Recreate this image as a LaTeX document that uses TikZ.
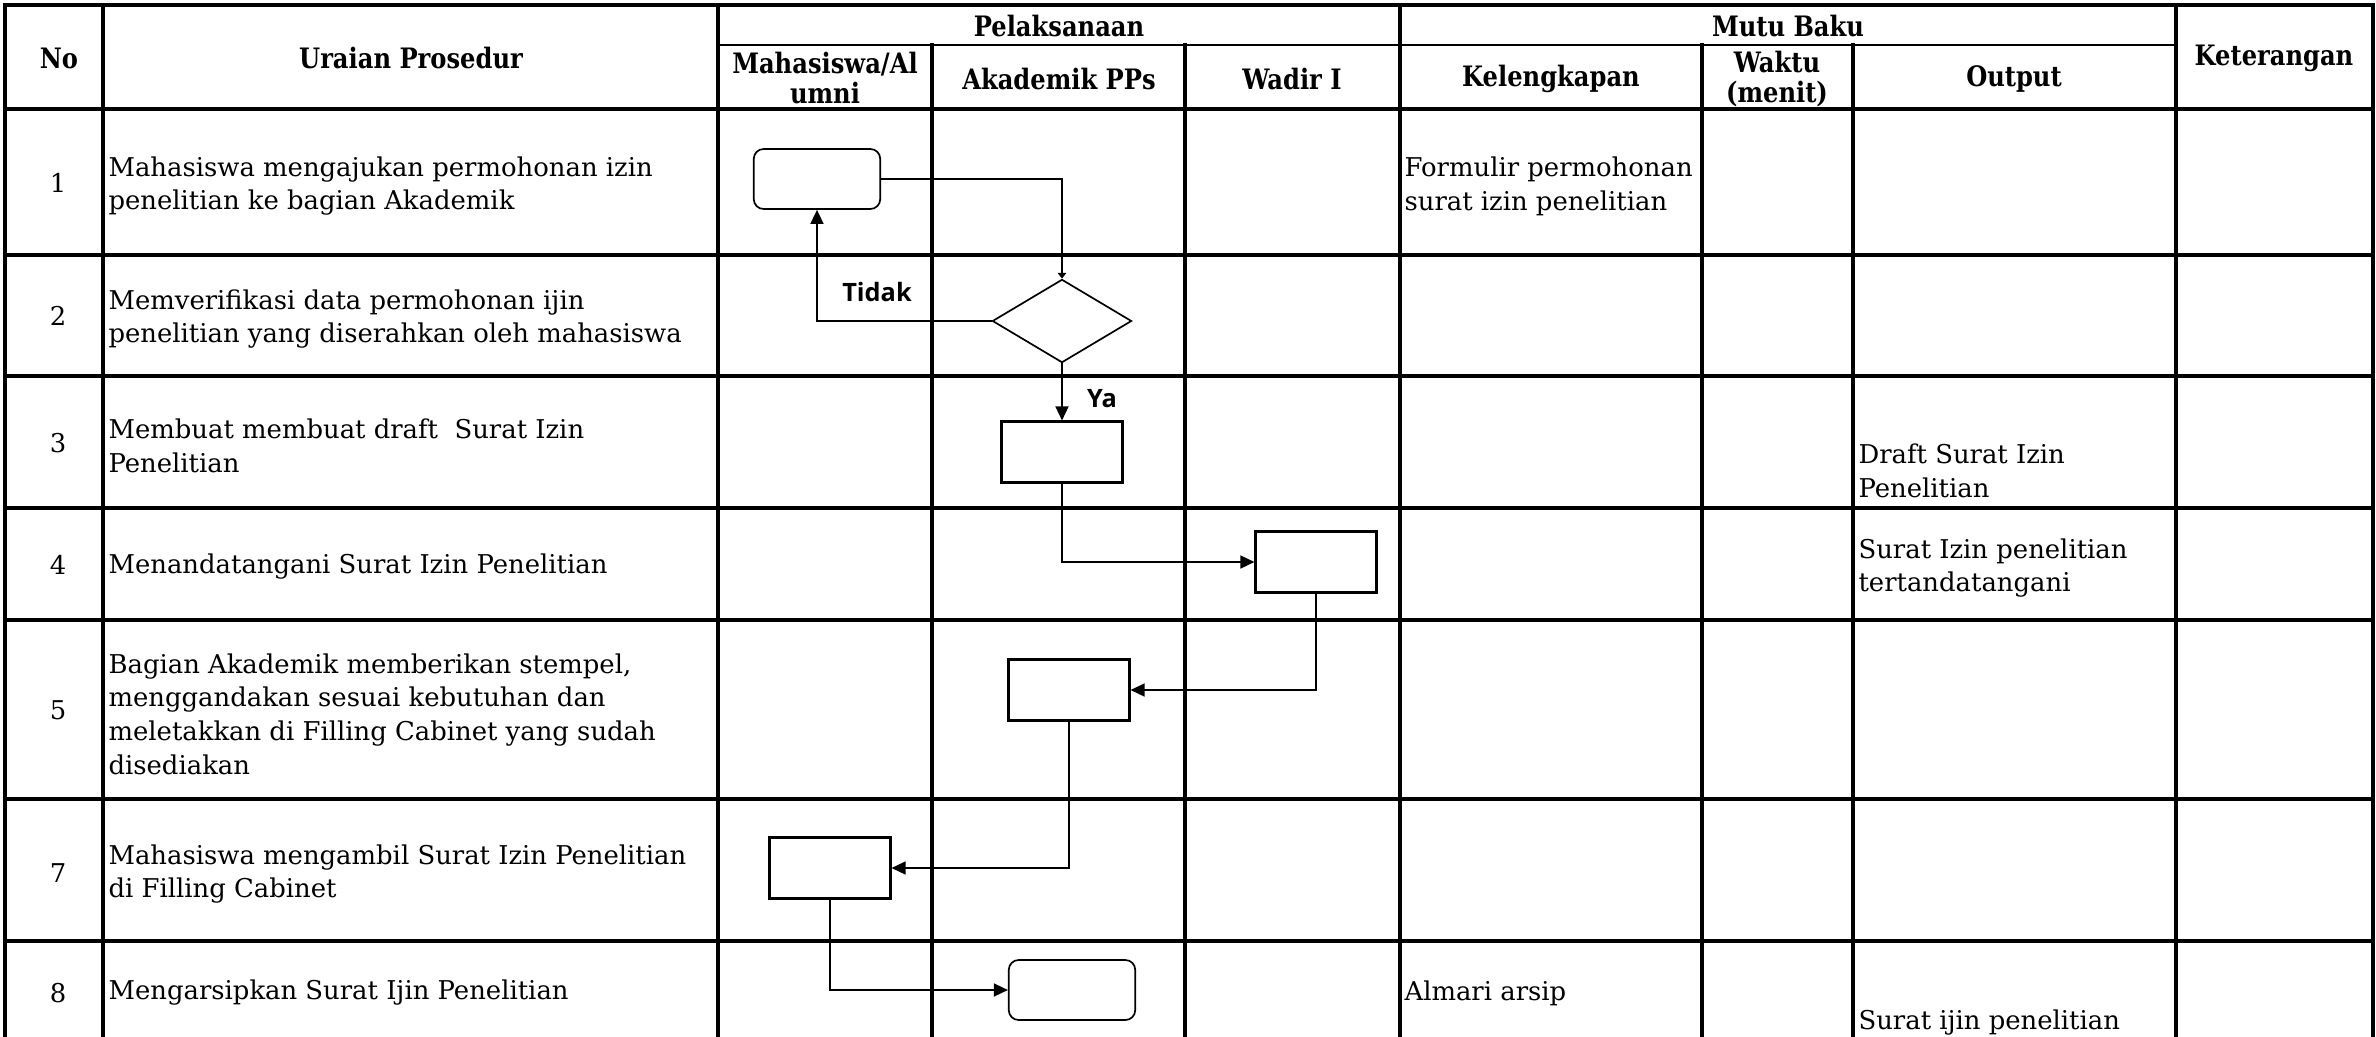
\documentclass[tikz,border=0pt]{standalone}
\usepackage{fontspec}
\setmainfont{DejaVu Serif}[BoldFeatures={FakeStretch=0.86}]
\newfontfamily\labelfont{Open Sans}
\usetikzlibrary{arrows.meta, shapes.geometric}
\tikzset{
  tabline/.style={line width=1.1pt, line cap=rect},
  hdr/.style={font=\bfseries\fontsize{10}{10.5}\selectfont, align=center, inner sep=0pt},
  isi/.style={font=\fontsize{9.2}{12}\selectfont, align=left, anchor=west, inner sep=0pt},
  nomor/.style={font=\fontsize{9.2}{12}\selectfont, inner sep=0pt},
  proses/.style={draw, line width=0.8pt, minimum width=1.51cm, minimum height=0.76cm, inner sep=0pt},
  mulai/.style={draw, rounded corners=3.5pt, line width=0.6pt, minimum width=1.58cm, minimum height=0.75cm, inner sep=0pt},
  keputusan/.style={draw, diamond, line width=0.6pt, minimum width=1.74cm, minimum height=1.04cm, inner sep=0pt},
  panah/.style={-{Triangle[length=5pt, width=4.6pt]}, line width=0.65pt},
  lbl/.style={font=\labelfont\bfseries\fontsize{9}{10}\selectfont, inner sep=0pt}
}

\begin{document}
\begin{tikzpicture}[x=0.0125cm, y=-0.0125cm]
\useasboundingbox (0,0) rectangle (2376,1037);
\foreach \x in {5,103,718,1400,2176,2373}
  \draw[tabline] (\x,5) -- (\x,1037);
\foreach \x in {932,1185,1702,1853}
  \draw[tabline] (\x,45) -- (\x,1037);
\foreach \y in {5,109,255,376,508,620,799,941}
  \draw[tabline] (5,\y) -- (2373,\y);
\draw[line width=0.8pt] (718,45) -- (2176,45);

\node[hdr] (hNo) at (59,58) {No};
\node[hdr] (hUraian) at (411,58) {Uraian Prosedur};
\node[hdr] (hPelaks) at (1059,26) {Pelaksanaan};
\node[hdr] (hMhs) at (825,78) {Mahasiswa/Al\\umni};
\node[hdr] (hAkad) at (1059,79) {Akademik PPs};
\node[hdr] (hWadir) at (1292,79) {Wadir I};
\node[hdr] (hMutu) at (1788,26) {Mutu Baku};
\node[hdr] (hKel) at (1551,79) {Kelengkapan};
\node[hdr] (hWaktu) at (1777,79) {Waktu\\(menit)};
\node[hdr] (hOut) at (2014,79) {Output};
\node[hdr] (hKet) at (2274,58) {Keterangan};

\foreach \n/\y in {1/183,2/316,3/443,4/565,5/710,7/873,8/993}
  \node[nomor] (no\n) at (58,\y) {\n};
\foreach \n/\y/\teks in {
  1/186/{Mahasiswa mengajukan permohonan izin\\penelitian ke bagian Akademik},
  2/319/{Memverifikasi data permohonan ijin\\penelitian yang diserahkan oleh mahasiswa},
  3/446/{Membuat membuat draft\ \ Surat Izin\\Penelitian},
  4/567/{Menandatangani Surat Izin Penelitian},
  5/714/{Bagian Akademik memberikan stempel,\\menggandakan sesuai kebutuhan dan\\meletakkan di Filling Cabinet yang sudah\\disediakan},
  7/874/{Mahasiswa mengambil Surat Izin Penelitian\\di Filling Cabinet},
  8/993/{Mengarsipkan Surat Ijin Penelitian}}
  \node[isi] (ur\n) at (108,\y) {\teks};

\node[isi] (kel1) at (1404,186) {Formulir permohonan\\surat izin penelitian};
\node[isi] (out3) at (1858,471) {Draft Surat Izin\\Penelitian};
\node[isi] (out4) at (1858,568) {Surat Izin penelitian\\tertandatangani};
\node[isi] (kel8) at (1404,993) {Almari arsip};
\node[isi] (out8) at (1858,1023) {Surat ijin penelitian};

\node[mulai] (ajuan) at (817,179) {};
\node[keputusan] (verif) at (1062,321) {};
\node[proses] (draft) at (1062,452) {};
\node[proses] (ttd) at (1316,562) {};
\node[proses] (stempel) at (1069,690) {};
\node[proses] (ambil) at (830,868) {};
\node[mulai] (arsip) at (1072,990) {};

\draw[panah, -{Triangle[length=2pt, width=3pt]}] (ajuan.east) -| (verif.north);
\draw[panah] (verif.west) -| (ajuan.south);
\draw[panah] (verif.south) -- (draft.north);
\draw[panah] (draft.south) |- (ttd.west);
\draw[panah] (ttd.south) |- (stempel.east);
\draw[panah] (stempel.south) |- (ambil.east);
\draw[panah] (ambil.south) |- (arsip.west);

\node[lbl] (tidak) at (877,292) {Tidak};
\node[lbl] (ya) at (1102,399) {Ya};
\end{tikzpicture}
\end{document}
